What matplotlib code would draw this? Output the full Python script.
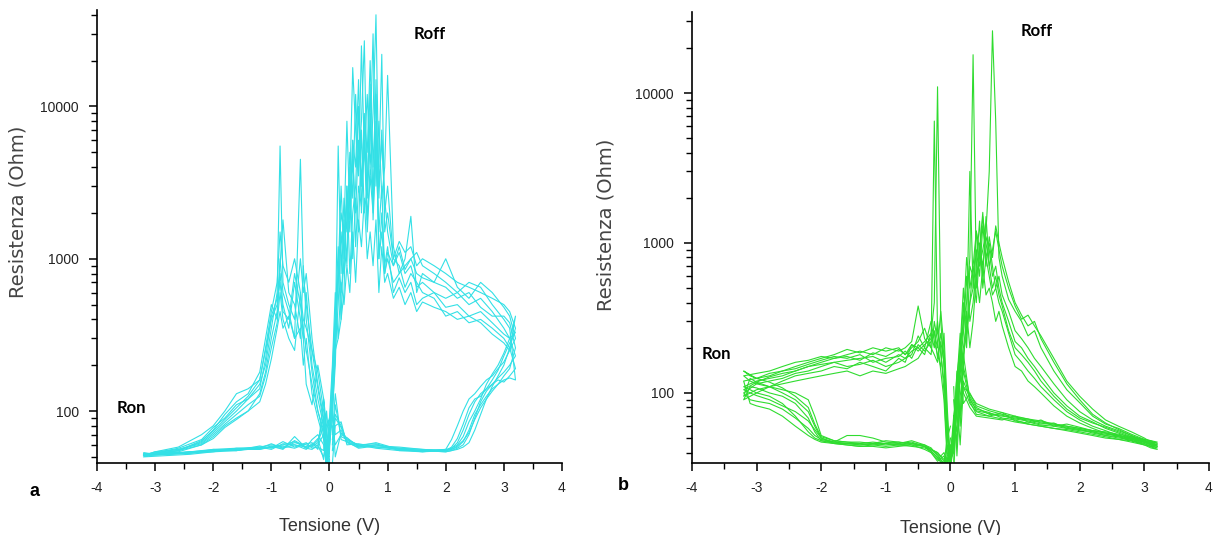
import matplotlib
matplotlib.use("Agg")
from matplotlib import pyplot as plt
from matplotlib import ticker
from matplotlib import font_manager as fm

# Panel a: voltage sweep segments (V)
a_v_rise = [0.05, 0.1, 0.2, 0.3, 0.5, 0.8, 1.2, 1.6, 2.0, 2.1, 2.2, 2.3, 2.4, 2.5, 2.6, 2.7, 2.8, 2.9, 3.0, 3.1, 3.2]
a_v_off = [3.1, 3.0, 2.8, 2.6, 2.4, 2.2, 2.0, 1.8, 1.6, 1.5, 1.4, 1.3, 1.2, 1.1, 1.0, 0.95, 0.9, 0.85, 0.8, 0.75,
           0.7, 0.65, 0.6, 0.55, 0.5, 0.45, 0.4, 0.35, 0.3, 0.25, 0.2, 0.15, 0.1, 0.05, 0.0]
a_v_on = [-0.05, -0.1, -0.2, -0.3, -0.4, -0.6, -0.8, -1.0, -1.2, -1.6, -2.0, -2.4, -2.8, -3.2]
a_v_set = [-3.0, -2.6, -2.2, -2.0, -1.8, -1.6, -1.4, -1.2, -1.1, -1.0, -0.9, -0.85, -0.8, -0.7, -0.6,
           -0.5, -0.45, -0.4, -0.3, -0.2, -0.1, -0.05, 0.0]

# Panel a: resistance (Ohm), one row per cycle
a_r_rise = [
    [90, 70, 75, 62, 58, 60, 56, 55, 55, 57, 62, 75, 95, 115, 130, 140, 150, 165, 180, 200, 230],
    [60, 110, 68, 65, 60, 57, 55, 54, 56, 65, 80, 100, 120, 130, 145, 160, 170, 190, 210, 250, 300],
    [45, 80, 85, 60, 61, 58, 57, 55, 54, 55, 57, 60, 70, 90, 115, 135, 150, 160, 155, 170, 190],
    [100, 50, 72, 66, 59, 62, 56, 54, 55, 56, 58, 63, 75, 95, 110, 125, 140, 150, 160, 165, 160],
    [70, 130, 65, 63, 57, 59, 58, 56, 55, 58, 66, 82, 105, 120, 125, 140, 160, 185, 230, 280, 330],
    [55, 90, 78, 64, 60, 61, 55, 55, 56, 57, 60, 68, 85, 100, 120, 150, 175, 200, 240, 300, 420],
    [80, 60, 70, 67, 58, 60, 57, 56, 55, 56, 59, 64, 72, 88, 105, 120, 135, 150, 170, 190, 260],
    [65, 95, 80, 63, 59, 58, 56, 55, 54, 55, 56, 58, 62, 75, 95, 120, 145, 170, 200, 260, 350],
]
a_r_off = [
    [300, 320, 380, 450, 420, 500, 480, 600, 700, 650, 900, 800, 1100, 900, 1500, 2500, 6000, 3000, 40000, 9000,
     4000, 12000, 5000, 3000, 6000, 2000, 4500, 1500, 3000, 900, 600, 1200, 400, 150, 70],
    [420, 480, 600, 700, 550, 650, 1000, 700, 800, 600, 1900, 1000, 800, 1200, 16000, 4000, 2500, 8000, 3000, 30000,
     6000, 2500, 27000, 8000, 4000, 12000, 2500, 5000, 1500, 2500, 800, 5500, 300, 120, 55],
    [260, 300, 350, 400, 380, 450, 420, 550, 600, 700, 800, 650, 900, 1000, 2000, 1500, 22000, 4000, 6000, 2500,
     9000, 3000, 5000, 25000, 3500, 7000, 18000, 3000, 1200, 800, 1500, 500, 250, 90, 60],
    [350, 400, 500, 650, 700, 600, 550, 600, 550, 500, 700, 600, 750, 600, 1200, 900, 1500, 1000, 8000, 2000,
     3500, 1500, 6000, 2000, 10000, 3000, 2000, 800, 3000, 600, 400, 900, 200, 100, 80],
    [300, 350, 450, 550, 500, 600, 700, 800, 900, 1100, 1000, 850, 1200, 900, 1100, 800, 3000, 1500, 5000, 1800,
     14000, 3000, 2000, 7000, 1500, 2500, 1000, 4000, 900, 1800, 400, 300, 600, 200, 90],
    [250, 280, 320, 380, 420, 400, 450, 480, 520, 450, 600, 500, 650, 550, 800, 700, 1200, 600, 1800, 900,
     1500, 1000, 2500, 1200, 1800, 700, 1500, 600, 900, 500, 700, 300, 250, 110, 65],
    [380, 420, 420, 480, 600, 550, 650, 700, 750, 800, 1000, 900, 800, 700, 1000, 800, 2000, 1000, 15000, 2500,
     4000, 1800, 9000, 2200, 3000, 1200, 6000, 1800, 2500, 1000, 3000, 800, 450, 180, 75],
    [450, 500, 550, 600, 650, 700, 800, 900, 1000, 900, 1200, 1100, 1300, 1000, 3000, 2000, 7000, 2500, 12000, 4000,
     20000, 5000, 8000, 3000, 15000, 4000, 6000, 2000, 8000, 1500, 2000, 700, 350, 130, 60],
]
a_r_on = [
    [50, 80, 62, 58, 60, 62, 58, 60, 58, 57, 56, 54, 53, 52],
    [45, 60, 70, 65, 58, 60, 57, 58, 57, 56, 55, 53, 52, 51],
    [100, 55, 58, 57, 62, 58, 63, 57, 59, 55, 55, 54, 52, 53],
    [40, 70, 60, 56, 57, 68, 56, 59, 56, 57, 54, 52, 51, 50],
    [75, 48, 66, 60, 56, 60, 61, 56, 58, 55, 54, 53, 53, 52],
    [60, 120, 56, 62, 61, 57, 59, 58, 56, 56, 55, 54, 52, 51],
    [42, 90, 64, 59, 58, 64, 57, 61, 57, 55, 56, 53, 52, 52],
    [65, 50, 59, 61, 57, 63, 60, 58, 57, 56, 55, 53, 52, 51],
]
a_r_set = [
    [53, 56, 62, 72, 85, 100, 120, 150, 200, 350, 600, 5500, 700, 500, 400, 1000, 600, 800, 300, 150, 90, 60, 45],
    [54, 58, 70, 80, 100, 130, 140, 160, 250, 400, 500, 1000, 600, 450, 300, 4500, 800, 500, 250, 180, 100, 70, 50],
    [52, 55, 60, 68, 80, 90, 100, 130, 180, 300, 450, 800, 500, 350, 700, 400, 300, 600, 200, 120, 80, 50, 45],
    [53, 57, 65, 78, 90, 110, 120, 140, 220, 420, 550, 700, 450, 400, 800, 500, 350, 250, 150, 100, 70, 45, 60],
    [52, 55, 63, 75, 95, 115, 130, 180, 300, 500, 400, 900, 1800, 600, 500, 300, 900, 400, 180, 100, 75, 55, 90],
    [54, 56, 61, 70, 82, 95, 110, 125, 170, 260, 380, 600, 400, 300, 250, 600, 300, 150, 110, 200, 120, 80, 45],
    [52, 54, 60, 66, 78, 88, 100, 115, 150, 220, 350, 450, 350, 420, 300, 350, 200, 300, 130, 90, 65, 50, 70],
    [53, 55, 64, 74, 88, 105, 125, 160, 260, 450, 700, 1500, 900, 700, 1000, 600, 400, 350, 250, 140, 85, 55, 48],
]

# Panel b: voltage sweep segments (V)
b_v_low = [0.05, 0.1, 0.15, 0.2, 0.3, 0.4, 0.6, 0.8, 1.0, 1.2, 1.4, 1.6, 1.8, 2.0, 2.2, 2.4, 2.6, 2.8, 3.0, 3.1, 3.2]
b_v_high = [3.1, 3.0, 2.8, 2.6, 2.4, 2.2, 2.0, 1.8, 1.6, 1.4, 1.3, 1.2, 1.1, 1.0, 0.9, 0.8, 0.75, 0.7, 0.65, 0.6,
            0.55, 0.5, 0.45, 0.4, 0.35, 0.3, 0.25, 0.2, 0.15, 0.1, 0.05, 0.0]
b_v_up_left = [-0.05, -0.1, -0.15, -0.2, -0.25, -0.3, -0.4, -0.5, -0.6, -0.7, -0.8, -1.0, -1.2, -1.4, -1.6,
               -1.8, -2.0, -2.2, -2.4, -2.6, -2.8, -3.0, -3.2]
b_v_low_left = [-3.1, -3.0, -2.8, -2.6, -2.4, -2.2, -2.1, -2.0, -1.8, -1.6, -1.4, -1.2, -1.0, -0.8, -0.6,
                -0.4, -0.3, -0.2, -0.1, -0.05, 0.0]

# Panel b: resistance (Ohm), one row per cycle
b_r_low = [
    [40, 120, 70, 150, 95, 80, 72, 70, 68, 66, 64, 62, 60, 58, 56, 54, 52, 50, 48, 47, 46],
    [30, 80, 200, 110, 85, 75, 70, 74, 65, 63, 66, 60, 58, 56, 55, 52, 50, 49, 47, 45, 44],
    [90, 45, 130, 100, 80, 70, 68, 66, 70, 64, 61, 60, 62, 59, 56, 55, 53, 51, 49, 48, 47],
    [35, 100, 70, 180, 90, 78, 74, 68, 66, 62, 60, 58, 57, 55, 53, 51, 49, 47, 45, 44, 43],
    [70, 55, 160, 85, 100, 82, 76, 72, 69, 67, 63, 61, 59, 57, 55, 53, 52, 50, 48, 46, 45],
    [110, 38, 95, 140, 88, 72, 70, 67, 64, 62, 60, 58, 56, 54, 52, 50, 49, 48, 46, 44, 42],
    [55, 140, 60, 120, 92, 76, 73, 71, 67, 65, 62, 63, 58, 57, 54, 52, 51, 49, 47, 46, 44],
    [60, 90, 45, 110, 98, 85, 78, 74, 70, 67, 65, 62, 60, 58, 56, 54, 52, 50, 48, 47, 45],
]
b_r_high = [
    [48, 49, 53, 58, 62, 70, 86, 105, 140, 200, 260, 240, 300, 350, 420, 600, 800, 6500, 26000, 3000,
     1200, 900, 700, 1200, 500, 400, 250, 180, 120, 90, 50, 30],
    [47, 50, 55, 60, 66, 78, 95, 120, 170, 240, 280, 330, 310, 380, 500, 700, 900, 1200, 900, 700,
     1000, 1500, 800, 600, 18000, 800, 400, 300, 150, 110, 60, 35],
    [46, 48, 52, 56, 60, 66, 75, 90, 115, 150, 170, 200, 230, 260, 350, 450, 600, 500, 700, 1000,
     800, 1300, 600, 900, 500, 3000, 300, 200, 140, 80, 45, 33],
    [45, 47, 50, 54, 58, 64, 70, 82, 100, 130, 150, 170, 200, 220, 300, 400, 500, 700, 600, 900,
     1100, 700, 1000, 500, 700, 400, 250, 500, 200, 90, 60, 40],
    [44, 46, 49, 52, 56, 60, 66, 75, 90, 110, 125, 140, 160, 180, 250, 350, 400, 500, 450, 600,
     800, 500, 1400, 700, 400, 300, 600, 250, 150, 100, 70, 38],
    [43, 45, 48, 51, 54, 58, 63, 70, 82, 100, 110, 120, 140, 150, 200, 280, 350, 300, 400, 500,
     450, 700, 400, 600, 300, 200, 350, 150, 250, 120, 40, 36],
    [45, 47, 51, 55, 59, 63, 68, 78, 95, 120, 140, 160, 180, 200, 260, 380, 450, 600, 500, 700,
     1500, 600, 900, 400, 600, 700, 200, 400, 180, 100, 55, 32],
    [46, 48, 52, 57, 63, 72, 90, 115, 160, 230, 300, 280, 330, 400, 550, 800, 1000, 1300, 800, 1100,
     700, 1600, 900, 1200, 700, 500, 800, 300, 200, 130, 65, 34],
]
b_r_up_left = [
    [60, 150, 300, 11000, 400, 250, 220, 200, 190, 170, 180, 160, 175, 170, 165, 160, 155, 150, 140, 130, 125, 120, 110],
    [40, 100, 200, 250, 6500, 200, 230, 380, 220, 200, 190, 200, 180, 190, 180, 170, 175, 165, 160, 150, 140, 135, 130],
    [80, 250, 150, 180, 220, 300, 200, 240, 180, 170, 160, 150, 165, 155, 150, 160, 150, 140, 135, 125, 120, 115, 100],
    [50, 120, 180, 300, 200, 250, 180, 200, 210, 160, 170, 140, 150, 160, 145, 150, 140, 135, 130, 120, 110, 105, 95],
    [45, 180, 250, 160, 180, 200, 270, 220, 200, 180, 200, 190, 200, 185, 195, 180, 170, 160, 150, 140, 135, 125, 120],
    [35, 90, 140, 220, 300, 180, 200, 170, 160, 150, 145, 135, 140, 130, 140, 135, 130, 125, 120, 115, 110, 100, 90],
    [70, 200, 350, 200, 250, 220, 190, 210, 170, 190, 175, 170, 160, 180, 170, 175, 165, 155, 145, 140, 130, 125, 140],
    [55, 160, 220, 170, 260, 230, 210, 190, 210, 180, 195, 175, 185, 165, 175, 170, 160, 150, 140, 135, 128, 118, 105],
]
b_r_low_left = [
    [105, 100, 95, 85, 70, 55, 50, 48, 47, 46, 45, 46, 45, 46, 47, 44, 42, 40, 36, 33, 40],
    [120, 115, 110, 105, 100, 90, 70, 52, 48, 47, 47, 46, 48, 47, 46, 45, 43, 38, 34, 50, 60],
    [90, 88, 85, 78, 68, 58, 52, 49, 47, 52, 52, 50, 47, 46, 48, 45, 42, 40, 35, 30, 35],
    [125, 118, 110, 100, 90, 75, 60, 50, 46, 45, 44, 45, 44, 45, 44, 43, 41, 37, 32, 45, 30],
    [85, 82, 78, 70, 60, 52, 49, 47, 46, 46, 45, 46, 46, 47, 45, 44, 40, 36, 40, 34, 45],
    [110, 108, 100, 95, 85, 68, 55, 48, 46, 45, 44, 44, 43, 44, 45, 42, 40, 35, 38, 32, 50],
    [130, 125, 118, 108, 95, 80, 62, 51, 48, 47, 46, 47, 46, 45, 46, 44, 42, 39, 33, 36, 40],
    [100, 96, 90, 82, 75, 65, 57, 50, 47, 46, 46, 45, 46, 45, 46, 44, 41, 37, 33, 38, 42],
]

x_ticks = [-4, -3, -2, -1, 0, 1, 2, 3, 4]

# fonts: narrow Arial-like if available
names = {f.name for f in fm.fontManager.ttflist}
narrow = "Liberation Sans Narrow" if "Liberation Sans Narrow" in names else "Liberation Sans"
plt.rcParams["axes.unicode_minus"] = False
plt.rcParams["font.family"] = [narrow, "DejaVu Sans"]

fig = plt.figure(figsize=(12.18, 5.35), dpi=100)
ax_a = fig.add_axes([0.0796, 0.1346, 0.3818, 0.8467])
ax_b = fig.add_axes([0.5681, 0.1346, 0.4245, 0.843])

for i in range(len(a_r_rise)):
    v = a_v_rise + a_v_off + a_v_on + a_v_set
    r = a_r_rise[i] + a_r_off[i] + a_r_on[i] + a_r_set[i]
    ax_a.plot(v, r, color="#33e0e6", lw=0.8)

for i in range(len(b_r_low)):
    v = b_v_low + b_v_high + b_v_up_left + b_v_low_left
    r = b_r_low[i] + b_r_high[i] + b_r_up_left[i] + b_r_low_left[i]
    ax_b.plot(v, r, color="#2fdc2f", lw=0.8)

ax_a.set_ylim(45.6, 43000)
ax_b.set_ylim(34.1, 34700)

for ax in (ax_a, ax_b):
    ax.set_yscale("log")
    ax.set_xlim(-4, 4)
    ax.set_xticks(x_ticks)
    ax.xaxis.set_minor_locator(ticker.MultipleLocator(0.5))
    ax.yaxis.set_major_formatter(ticker.FuncFormatter(lambda val, pos: f"{val:g}"))
    ax.yaxis.set_minor_formatter(ticker.NullFormatter())
    ax.spines["top"].set_visible(False)
    ax.spines["right"].set_visible(False)
    ax.spines["left"].set_linewidth(1.2)
    ax.spines["bottom"].set_linewidth(1.2)
    ax.tick_params(which="major", direction="out", length=6, width=1.1, labelsize=10,
                   labelcolor="#222222", pad=7)
    ax.tick_params(which="minor", direction="out", length=4, width=1.0)
    ax.set_xlabel("Tensione (V)", fontsize=13, color="#333333")
    ax.set_ylabel("Resistenza (Ohm)", fontsize=14, color="#444444", family="DejaVu Sans")

ax_a.xaxis.set_label_coords(0.5, -0.121)
ax_b.xaxis.set_label_coords(0.5, -0.126)
ax_a.yaxis.set_label_coords(-0.15, 0.554)
ax_b.yaxis.set_label_coords(-0.147, 0.528)

lab = dict(fontsize=12, fontweight="bold", family=["Lato", "DejaVu Sans"], ha="center", va="center")
ax_a.text(1.73, 29900, "Roff", **lab)
ax_a.text(-3.41, 105, "Ron", **lab)
ax_b.text(1.34, 25900, "Roff", **lab)
ax_b.text(-3.62, 182, "Ron", **lab)

fig.text(34 / 1218, 1 - 491 / 535, "a", fontsize=13, fontweight="bold", ha="center", va="center")
fig.text(623 / 1218, 1 - 486 / 535, "b", fontsize=13, fontweight="bold", ha="center", va="center")

fig.savefig("out.png", dpi=100)
